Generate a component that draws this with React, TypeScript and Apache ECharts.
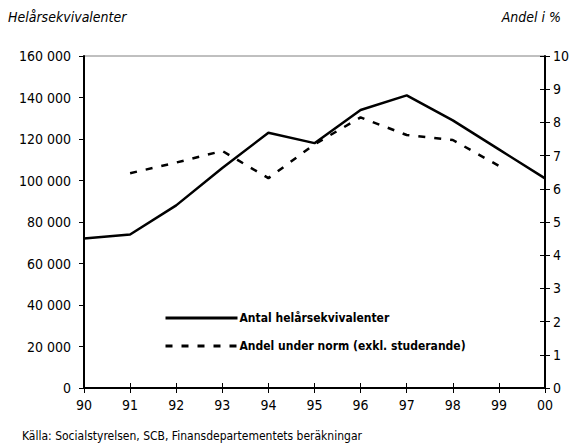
import React, { useEffect, useRef } from "react";
import * as echarts from "echarts";

const years = ["90", "91", "92", "93", "94", "95", "96", "97", "98", "99", "00"];
const antal = [72000, 74000, 88000, 106000, 123000, 118000, 134000, 141000, 129000, 115000, 101000];
const andel = [null, 6.47, 6.79, 7.14, 6.32, 7.34, 8.15, 7.62, 7.47, 6.69, null];
const seriesNames = ["Antal helårsekvivalenter", "Andel under norm (exkl. studerande)"];
const leftTitle = "Helårsekvivalenter";
const rightTitle = "Andel i %";
const source = "Källa: Socialstyrelsen, SCB, Finansdepartementets beräkningar";

const FONT = "'Liberation Sans Narrow', 'DejaVu Sans Condensed', sans-serif";

export default function App() {
  const ref = useRef<HTMLDivElement>(null);
  useEffect(() => {
    if (!ref.current) return;
    const chart = echarts.init(ref.current, undefined, { renderer: "svg" });
    const labelStyle = { color: "#000", fontSize: 14, fontFamily: FONT };
    chart.setOption({
      animation: false,
      textStyle: { fontFamily: FONT },
      grid: {
        left: 84,
        right: 31,
        top: 56,
        bottom: 59,
        show: true,
        borderColor: "#808080",
        borderWidth: 1,
      },
      graphic: [
        {
          type: "text",
          left: 8,
          top: 10,
          style: { text: leftTitle, fontSize: 14, fontStyle: "italic", fontFamily: FONT, fill: "#000" },
        },
        {
          type: "text",
          right: 15,
          top: 10,
          style: { text: rightTitle, fontSize: 14, fontStyle: "italic", fontFamily: FONT, fill: "#000" },
        },
        {
          type: "text",
          left: 22,
          top: 430,
          style: { text: source, fontSize: 12, fontFamily: FONT, fill: "#000" },
        },
      ],
      legend: {
        orient: "vertical",
        left: 164,
        top: 312,
        padding: 0,
        itemWidth: 72,
        itemHeight: 14,
        itemGap: 16,
        data: seriesNames,
        itemStyle: { opacity: 0 },
        lineStyle: { width: 3 },
        textStyle: { color: "#000", fontSize: 12, fontWeight: "bold", fontFamily: FONT, padding: [0, 0, 0, -3] },
      },
      xAxis: [
        {
          type: "category",
          data: years,
          boundaryGap: false,
          axisLine: { lineStyle: { color: "#000", width: 2 } },
          axisTick: { show: true, length: 5, lineStyle: { color: "#000", width: 1 } },
          axisLabel: { ...labelStyle, margin: 10 },
          splitLine: { show: false },
        },
        {
          type: "category",
          data: years,
          boundaryGap: false,
          position: "bottom",
          axisLine: { show: false },
          axisTick: { show: true, inside: true, length: 5, lineStyle: { color: "#000", width: 1 } },
          axisLabel: { show: false },
          splitLine: { show: false },
        },
      ],
      yAxis: [
        {
          type: "value",
          min: 0,
          max: 160000,
          interval: 20000,
          position: "left",
          axisLine: { show: true, lineStyle: { color: "#000", width: 2 } },
          axisTick: { show: true, length: 5, lineStyle: { color: "#000", width: 1 } },
          axisLabel: {
            ...labelStyle,
            margin: 13,
            formatter: (v: number) => String(v).replace(/\B(?=(\d{3})+(?!\d))/g, " "),
          },
          splitLine: { show: false },
        },
        {
          type: "value",
          min: 0,
          max: 10,
          interval: 1,
          position: "right",
          axisLine: { show: true, lineStyle: { color: "#000", width: 2 } },
          axisTick: { show: true, length: 5, lineStyle: { color: "#000", width: 1 } },
          axisLabel: { ...labelStyle, margin: 8 },
          splitLine: { show: false },
        },
        {
          type: "value",
          min: 0,
          max: 10,
          interval: 1,
          position: "right",
          axisLine: { show: false },
          axisTick: { show: true, inside: true, length: 5, lineStyle: { color: "#000", width: 1 } },
          axisLabel: { show: false },
          splitLine: { show: false },
        },
      ],
      series: [
        {
          name: seriesNames[0],
          type: "line",
          data: antal,
          xAxisIndex: 0,
          yAxisIndex: 0,
          symbol: "none",
          lineStyle: { color: "#000", width: 2.5 },
          itemStyle: { color: "#000" },
        },
        {
          name: seriesNames[1],
          type: "line",
          data: andel,
          xAxisIndex: 0,
          yAxisIndex: 1,
          symbol: "none",
          lineStyle: { color: "#000", width: 2.5, type: [7, 9] },
          itemStyle: { color: "#000" },
        },
      ],
    });
    return () => chart.dispose();
  }, []);
  return <div ref={ref} style={{ width: 576, height: 447, position: "absolute", left: 0, top: 0 }} />;
}
